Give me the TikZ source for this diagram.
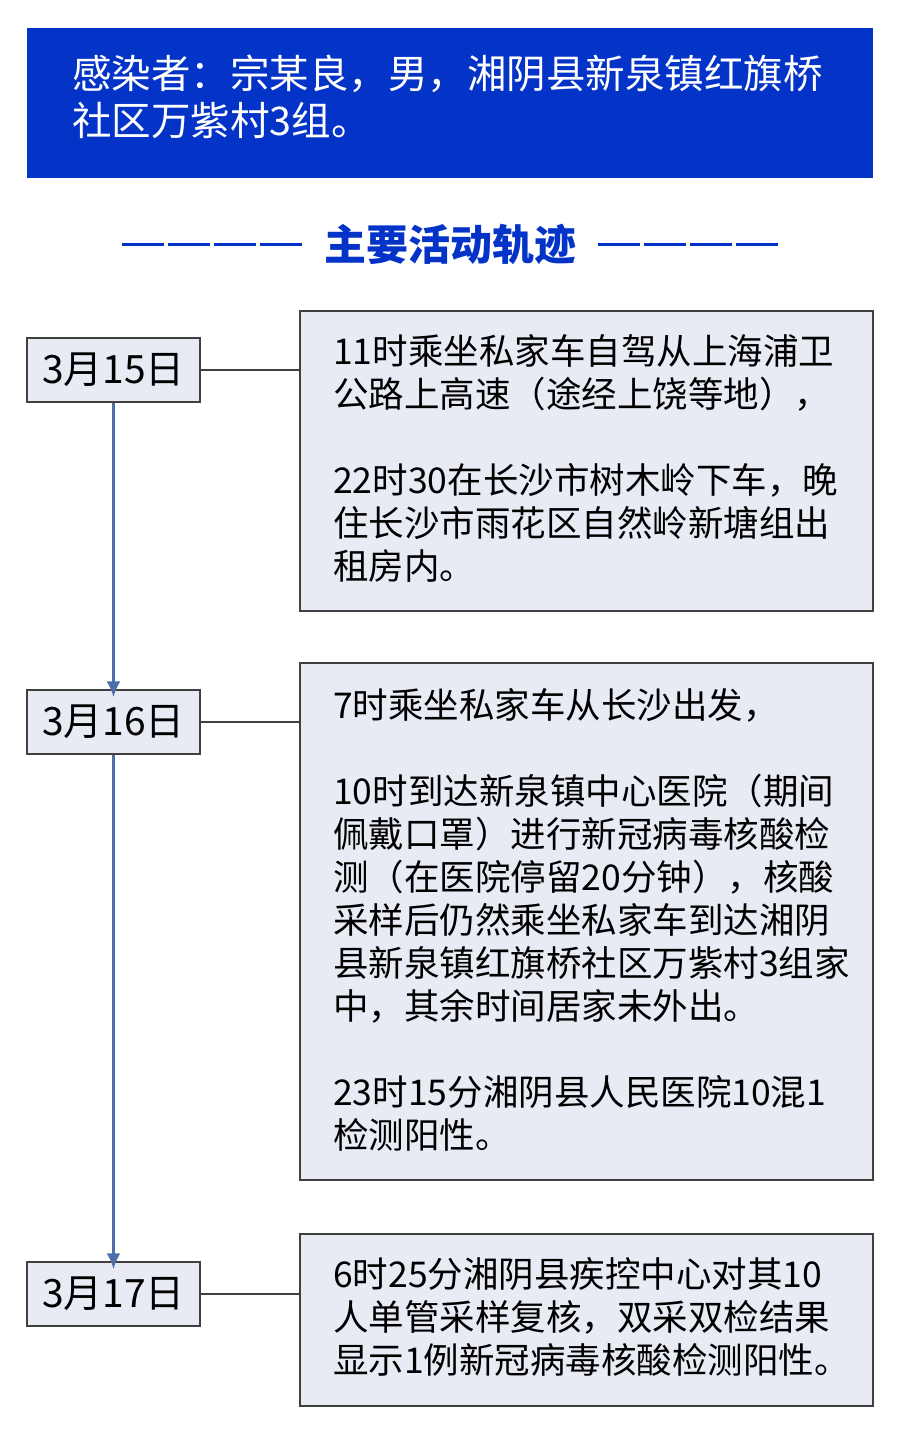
\documentclass[tikz,border=0pt]{standalone}
\usepackage{fontspec}
\setmainfont{Noto Sans CJK SC}
\usetikzlibrary{positioning,arrows.meta}
\definecolor{hdrblue}{HTML}{0433C8}
\definecolor{boxfill}{HTML}{E8EAF4}
\definecolor{arrblue}{HTML}{4B6FA8}
\tikzset{
    datebox/.style={draw=black!75, line width=1.2pt, fill=boxfill, minimum width=173pt, minimum height=64pt, font=\fontsize{39pt}{44pt}\selectfont, inner sep=0pt},
    infobox/.style={draw=black!75, line width=1.2pt, fill=boxfill},
    infotext/.style={anchor=north west, align=left, inner sep=0pt, font=\fontsize{35.5pt}{43pt}\selectfont},
    timeline/.style={arrblue, line width=3.5pt, -{Latex[length=16pt,width=14pt]}},
    link/.style={black!75, line width=1.2pt}
}
\begin{document}
\begin{tikzpicture}[x=1pt, y=-1pt]
    \useasboundingbox[fill=white] (0,0) rectangle (900,1433);
    % header
    \fill[hdrblue] (27,28) rectangle (873,178);
    \node[anchor=north west, align=left, inner sep=0pt, text=white, font=\fontsize{39.5pt}{47pt}\selectfont] (header) at (72,55)
        {感染者：宗某良，男，湘阴县新泉镇红旗桥\\社区万紫村3组。};
    % title
    \node[text=hdrblue, font=\fontsize{42pt}{46pt}\selectfont\bfseries] (title) at (450,244) {主要活动轨迹};
    \foreach \x in {122,168,214,260} {
        \draw[hdrblue, line width=3pt] (\x,244) -- ++(42,0);
    }
    \foreach \x in {598,644,690,736} {
        \draw[hdrblue, line width=3pt] (\x,244) -- ++(42,0);
    }
    % dates
    \node[datebox] (d15) at (113.5,370) {3月15日};
    \node[datebox] (d16) at (113.5,722) {3月16日};
    \node[datebox] (d17) at (113.5,1294) {3月17日};
    \draw[timeline] (d15.south) -- ([yshift=-8pt]d16.north);
    \draw[timeline] (d16.south) -- ([yshift=-8pt]d17.north);
    % boxes
    \draw[infobox] (300,311) rectangle (873,611);
    \draw[infobox] (300,663) rectangle (873,1180);
    \draw[infobox] (300,1234) rectangle (873,1406);
    \coordinate (b15) at (300,370);
    \coordinate (b16) at (300,722);
    \coordinate (b17) at (300,1294);
    \draw[link] (d15.east) -- (b15);
    \draw[link] (d16.east) -- (b16);
    \draw[link] (d17.east) -- (b17);
    \node[infotext] (t15) at (333,334)
        {11时乘坐私家车自驾从上海浦卫\\公路上高速（途经上饶等地），\\[43pt]22时30在长沙市树木岭下车，晚\\住长沙市雨花区自然岭新塘组出\\租房内。};
    \node[infotext] (t16) at (333,688)
        {7时乘坐私家车从长沙出发，\\[43pt]10时到达新泉镇中心医院（期间\\佩戴口罩）进行新冠病毒核酸检\\测（在医院停留20分钟），核酸\\采样后仍然乘坐私家车到达湘阴\\县新泉镇红旗桥社区万紫村3组家\\中，其余时间居家未外出。\\[43pt]23时15分湘阴县人民医院10混1\\检测阳性。};
    \node[infotext] (t17) at (333,1257)
        {6时25分湘阴县疾控中心对其10\\人单管采样复核，双采双检结果\\显示1例新冠病毒核酸检测阳性。};
\end{tikzpicture}
\end{document}
